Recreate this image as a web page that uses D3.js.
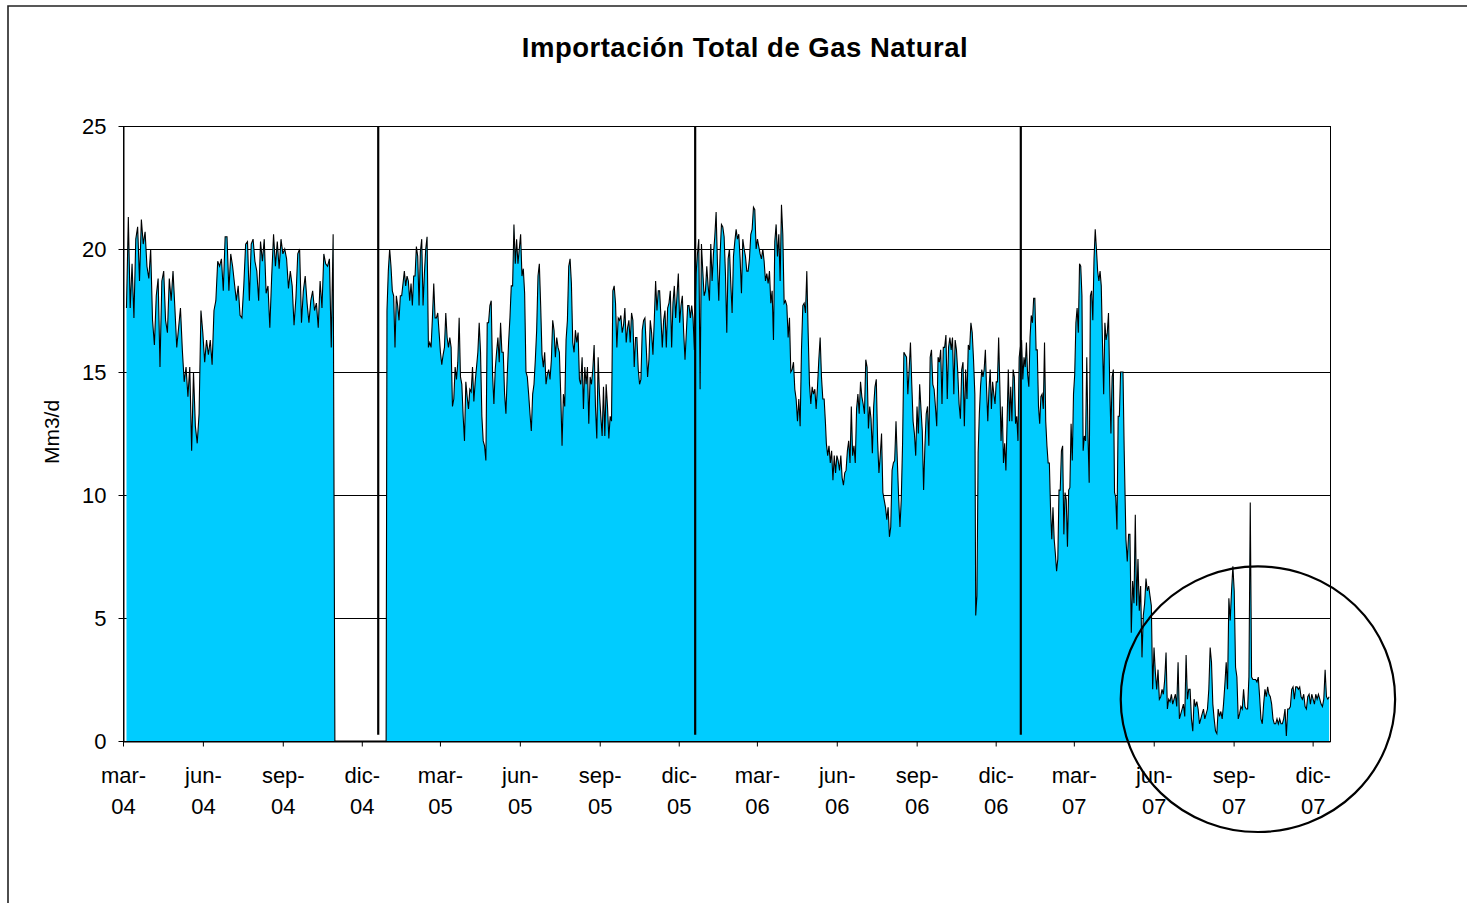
<!DOCTYPE html>
<html><head><meta charset="utf-8">
<script src="https://cdn.jsdelivr.net/npm/d3@7"></script>
<style>
body{margin:0;background:#fff}
svg{display:block}
text{font-family:"Liberation Sans",Arial,sans-serif;fill:#000}
</style>
</head><body>
<svg id="c" width="1472" height="903"></svg>
<script>
const chartTitle = "Importación Total de Gas Natural";
const yTitle = "Mm3/d";
const yTicks = [0, 5, 10, 15, 20, 25];
const monthNames = ["ene","feb","mar","abr","may","jun","jul","ago","sep","oct","nov","dic"];
const xTickDates = ["2004-03-01","2004-06-01","2004-09-01","2004-12-01","2005-03-01","2005-06-01","2005-09-01","2005-12-01",
  "2006-03-01","2006-06-01","2006-09-01","2006-12-01","2007-03-01","2007-06-01","2007-09-01","2007-12-01"];
const xDomain = ["2004-03-01", "2007-12-21"];

// segments of the daily series (values spread evenly between start and end dates)
const segStart = ["2004-03-05","2004-10-31","2004-12-30","2005-12-21","2006-05-20","2006-11-08","2007-04-30"];
const segEnd   = ["2004-10-29","2004-12-29","2005-12-19","2006-05-19","2006-11-07","2007-04-28","2007-12-20"];

const values2004 = [17.6,21.3,17.6,19.4,17.2,20.4,20.9,18.7,21.2,20.2,20.7,19.3,18.8,20.0,17.1,16.1,18.1,18.8,15.2,18.7,19.1,17.1,16.6,18.8,17.9,19.1,17.6,16.0,16.8,17.6,15.9,14.6,15.2,14.0,15.2,11.8,15.0,12.8,12.1,13.3,17.5,16.6,15.4,16.3,15.7,16.3,15.3,17.5,17.9,19.5,19.3,19.6,18.3,20.5,20.5,18.3,19.8,19.3,18.6,17.9,18.5,17.3,17.2,18.5,20.2,20.3,17.9,20.2,20.4,19.5,19.1,17.9,20.3,19.5,20.4,18.2,18.5,16.8,18.9,20.6,19.3,20.3,19.2,20.4,19.8,20.0,19.6,18.4,19.1,18.5,16.9,18.0,19.8,20.0,17.0,18.3,18.9,17.8,17.0,17.9,18.3,17.5,17.8,16.8,18.7,17.6,19.8,19.4,19.3,19.6,16.0,20.6];
const valuesGap2004 = [0, 0];
const values2005 = [17.5,19.1,20.0,19.3,18.3,18.1,16.0,18.1,17.7,17.1,18.1,18.1,18.6,19.1,18.5,18.9,18.7,17.9,18.6,17.7,18.9,18.9,20.1,19.7,17.7,19.9,20.4,17.7,19.0,20.0,20.5,16.0,16.2,16.0,17.2,18.6,17.2,17.2,17.4,16.6,15.8,15.3,15.7,16.0,17.4,16.4,16.0,16.4,16.0,13.6,13.9,15.2,14.7,15.4,17.2,14.8,14.5,13.2,12.2,14.6,14.0,13.5,14.3,14.2,15.2,13.8,14.6,15.2,15.8,17.0,15.8,13.2,12.2,12.0,11.4,17.0,17.0,17.7,17.9,14.9,13.7,15.1,15.8,16.4,15.4,17.0,15.8,15.8,14.1,13.3,14.9,16.2,17.2,18.5,18.5,21.0,19.4,20.4,19.4,20.0,20.6,18.9,19.2,18.2,15.0,14.8,14.1,13.3,12.6,14.1,14.5,15.5,16.7,18.9,19.4,17.7,15.7,15.2,15.8,14.5,14.9,15.1,14.7,15.5,17.1,16.7,15.6,16.4,16.0,
  15.8,14.1,12.0,14.1,13.6,16.3,17.1,19.3,19.6,18.6,16.2,15.8,16.7,16.2,16.6,14.7,14.5,15.6,13.5,15.2,14.5,15.2,12.9,14.8,14.5,15.1,16.1,13.6,12.3,15.6,14.1,13.2,12.4,14.4,12.4,14.5,13.6,12.3,13.2,13.0,18.3,18.5,17.8,16.0,17.2,17.1,17.3,16.6,16.9,17.6,16.2,16.8,17.1,16.2,17.4,17.1,15.2,16.4,16.4,15.1,14.5,14.7,16.7,17.1,17.2,16.0,14.8,15.5,17.1,16.6,15.7,17.1,18.7,17.5,18.3,18.3,17.2,16.0,17.1,17.5,16.0,17.6,17.8,18.3,16.0,17.8,18.5,17.2,18.1,19.0,17.0,17.7,18.1,16.6,15.5,16.6,17.7,17.7,17.2,17.7,17.2,15.9];
const values2006a = [19.0,19.8,20.4,14.3,20.2,19.1,18.1,18.3,19.3,18.5,17.9,20.2,18.7,19.8,20.5,21.5,19.4,17.9,19.8,21.0,20.9,20.5,19.0,16.6,19.6,20.0,18.6,17.4,19.7,20.3,20.8,20.4,20.6,19.6,18.2,20.4,20.0,19.7,19.1,19.1,19.6,20.6,20.8,21.7,21.6,20.0,20.4,20.1,19.8,19.6,20.0,19.5,18.7,19.0,18.6,19.1,17.8,18.3,16.3,20.3,21.0,19.7,20.6,18.7,21.8,20.6,17.8,17.9,17.7,16.4,17.2,15.0,15.1,15.4,14.3,13.9,13.0,13.9,12.8,15.9,17.7,17.8,17.4,19.1,16.6,14.5,13.7,14.4,14.1,14.3,13.5,14.4,15.5,16.4,14.8,13.9,13.9,12.9];
const values2006b = [12.1,11.6,12.0,11.3,11.8,10.6,11.6,10.9,11.6,11.4,11.0,11.6,10.7,10.4,10.9,11.0,11.8,12.2,11.3,13.6,11.6,12.0,11.3,13.5,14.1,13.3,14.6,14.0,13.7,13.3,15.5,15.2,12.7,13.6,13.1,11.7,13.6,14.4,14.7,12.2,10.9,11.6,12.5,10.1,9.8,9.5,9.0,9.5,8.3,8.7,11.0,11.3,11.4,13.0,11.4,9.9,8.7,9.8,12.1,15.8,15.7,15.6,14.1,15.1,16.2,14.5,13.0,12.5,11.6,13.6,12.5,14.5,13.5,12.6,10.2,12.0,13.3,13.6,12.0,15.6,15.9,14.5,14.3,13.6,12.8,15.6,15.4,15.9,13.7,16.0,16.0,16.5,13.9,16.0,16.4,15.9,16.4,14.1,16.3,15.9,15.0,13.7,13.1,15.1,15.4,12.8,15.1,13.9,16.1,15.9,17.0,16.6,15.5,14.1];
const values2007a = [5.1,5.9,11.7,13.3,14.4,15.1,14.8,15.1,15.9,14.3,13.0,14.3,15.1,13.5,14.6,14.1,13.7,14.6,14.6,16.4,14.4,12.2,13.6,11.3,12.1,11.0,13.0,15.1,13.0,14.4,13.0,15.1,14.8,12.9,13.2,12.2,15.6,16.0,16.3,14.7,15.6,15.2,16.2,14.9,14.4,16.4,17.3,17.0,18.0,18.0,15.9,15.9,13.6,12.9,14.0,14.1,13.5,16.2,13.0,12.0,11.3,11.3,9.4,8.2,9.5,8.2,7.6,6.9,7.4,10.2,10.2,11.8,12.0,8.4,10.1,9.8,7.9,10.2,10.3,12.9,11.4,14.1,14.9,17.0,17.6,16.6,19.4,19.3,18.1,11.8,12.4,12.2,15.6,12.4,10.5,18.1,18.3,17.1,19.6,20.8,20.0,19.1,18.7,19.1,18.5,16.2,14.1,17.0,16.3,16.6,17.4,14.5,12.5,14.8,15.1,10.1,9.9,8.6,13.2,13.2,15.0,15.0,15.0,11.8];
const values2007b = [8.2,7.3,8.4,8.4,4.4,6.5,5.6,9.2,5.5,7.4,5.3,6.3,3.4,5.1,5.6,6.6,6.1,6.3,5.9,5.5,2.1,3.8,2.8,2.1,2.9,1.7,1.8,2.1,1.9,2.5,3.6,1.3,1.7,1.6,1.9,1.5,1.7,1.9,1.4,3.2,0.9,1.1,1.3,1.5,1.0,3.5,1.7,2.1,2.1,0.9,0.4,1.7,1.4,1.6,1.3,0.7,0.9,1.1,1.3,0.9,1.1,1.3,2.1,3.8,3.2,1.5,0.9,0.4,0.3,1.3,1.0,1.2,0.9,1.5,2.3,3.2,2.1,5.8,4.9,6.1,7.1,6.1,3.0,2.6,0.9,1.1,1.4,1.3,2.1,1.4,1.3,1.3,2.6,9.7,2.6,2.5,2.5,2.5,2.4,2.6,1.8,0.9,0.7,1.5,2.1,1.8,2.2,1.9,1.8,1.5,0.9,0.7,0.7,0.9,0.7,0.9,0.7,0.7,0.9,1.3,0.2,1.3,1.3,1.4,2.1,2.2,1.7,2.2,2.2,2.1,2.2,1.8,1.7,1.9,1.4,1.3,1.8,1.9,1.5,1.9,1.7,1.5,1.9,1.7,1.9,1.7,1.5,1.4,1.7,2.9,1.8,1.7,1.8];
const segValues = [values2004, valuesGap2004, values2005, values2006a, values2006b, values2007a, values2007b];

// vertical separator marks
const separatorDates = ["2004-12-19","2005-12-19","2006-12-29"];
const separatorRange = [0.25, 25];

// highlight ellipse (data units)
const highlightCenterDate = "2007-09-29";
const highlightCenterValue = 1.7;
const highlightHalfDays = 158;
const highlightHalfUnits = 5.4;

const parse = d3.timeParse("%Y-%m-%d");
const svg = d3.select("#c");
const W = 1472, H = 903;
const M = {left:123, right:1330, top:126, bottom:741};

const x = d3.scaleTime().domain(xDomain.map(parse)).range([M.left, M.right]);
const y = d3.scaleLinear().domain([0, 25]).range([M.bottom, M.top]);

// build series
const series = [];
segValues.forEach((vals, i) => {
  const s = parse(segStart[i]).getTime(), e = parse(segEnd[i]).getTime();
  const n = vals.length;
  vals.forEach((v, j) => {
    series.push({date: new Date(s + (n > 1 ? (e - s) * j / (n - 1) : 0)), value: v});
  });
});

// outer frame
svg.append("path").attr("d", `M8,${H} L8,6 L1467,6`).attr("fill","none").attr("stroke","#222").attr("stroke-width",1.6);

// title
svg.append("text").attr("x", 745).attr("y", 57).attr("text-anchor","middle")
  .style("font-size","27.5px").style("font-weight","bold").style("letter-spacing","0.5px").text(chartTitle);

// gridlines
svg.append("g").selectAll("line").data(yTicks.filter(d => d > 0 && d < 25)).join("line")
  .attr("x1", M.left).attr("x2", M.right).attr("y1", d => Math.round(y(d)) + 0.5).attr("y2", d => Math.round(y(d)) + 0.5)
  .attr("stroke","#000").attr("stroke-width",1);

// area + line
const area = d3.area().x(d => x(d.date)).y0(y(0)).y1(d => y(d.value));
const line = d3.line().x(d => x(d.date)).y(d => y(d.value));
svg.append("path").datum(series).attr("d", area).attr("fill","#00CCFF");
svg.append("path").datum(series).attr("d", line).attr("fill","none").attr("stroke","#000").attr("stroke-width",1.1).attr("stroke-linejoin","miter");

// separators
svg.append("g").selectAll("line").data(separatorDates.map(parse)).join("line")
  .attr("x1", d => x(d) + 0.8).attr("x2", d => x(d) + 0.8).attr("y1", y(separatorRange[0])).attr("y2", y(separatorRange[1]))
  .attr("stroke","#000").attr("stroke-width",2.2);

// plot border
svg.append("rect").attr("x", M.left + 0.5).attr("y", M.top + 0.5).attr("width", M.right - M.left).attr("height", M.bottom - M.top)
  .attr("fill","none").attr("stroke","#000").attr("stroke-width",1);

// y axis
const yAxis = svg.append("g").attr("transform", `translate(${M.left + 0.5},0)`)
  .call(d3.axisLeft(y).tickValues(yTicks).tickSize(5).tickSizeOuter(0).tickPadding(12));
yAxis.select(".domain").attr("stroke","#000");
yAxis.selectAll(".tick line").attr("stroke","#000");
yAxis.selectAll("text").style("font-size","22px").attr("dy","0.36em");

svg.append("text").attr("transform", `translate(59,432) rotate(-90)`).attr("text-anchor","middle")
  .style("font-size","21px").text(yTitle);

// x axis
const xAxis = svg.append("g").attr("transform", `translate(0,${M.bottom + 0.5})`)
  .call(d3.axisBottom(x).tickValues(xTickDates.map(parse)).tickSize(5).tickSizeOuter(0).tickFormat(() => ""));
xAxis.select(".domain").attr("stroke","#000");
xAxis.selectAll(".tick line").attr("stroke","#000");
xAxis.selectAll(".tick").each(function(d) {
  const t = d3.select(this).append("text").attr("text-anchor","middle").style("font-size","22px");
  t.append("tspan").attr("x", 0).attr("y", 41).text(monthNames[d.getMonth()] + "-");
  t.append("tspan").attr("x", 0).attr("y", 72).text(d3.timeFormat("%y")(d));
});

// highlight ellipse
const hc = parse(highlightCenterDate);
const cx = x(hc), cy = y(highlightCenterValue);
const rx = x(d3.timeDay.offset(hc, highlightHalfDays)) - cx;
const ry = y(0) - y(highlightHalfUnits);
svg.append("ellipse").attr("cx", cx).attr("cy", cy).attr("rx", rx).attr("ry", ry)
  .attr("fill","none").attr("stroke","#000").attr("stroke-width",2.2);
</script>
</body></html>
